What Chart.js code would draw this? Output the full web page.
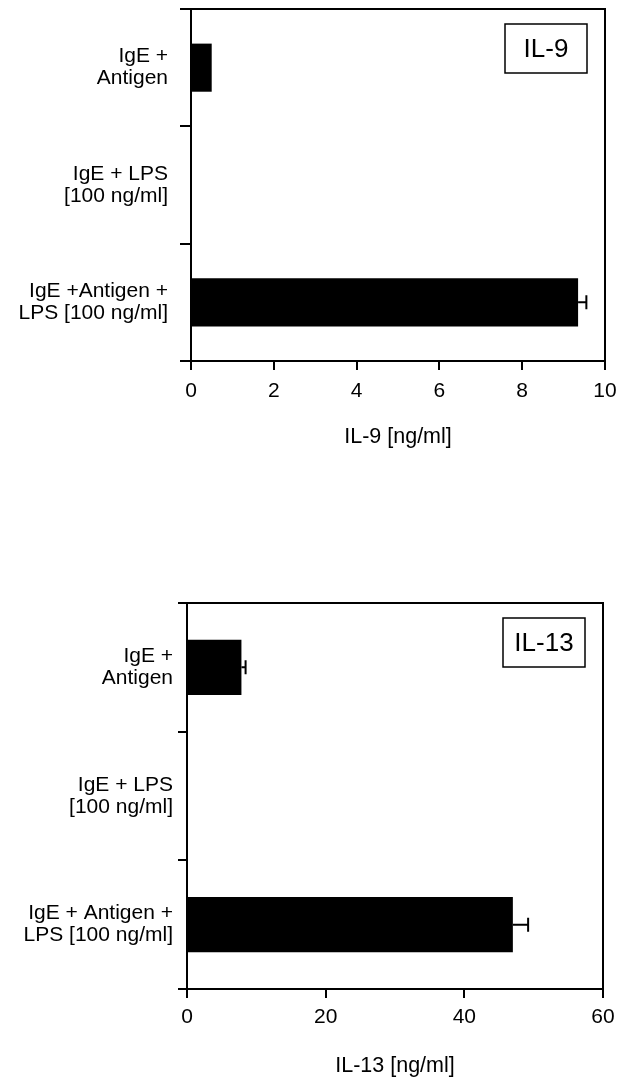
<!DOCTYPE html>
<html>
<head>
<meta charset="utf-8">
<script src="https://cdn.jsdelivr.net/npm/chart.js@4.4.1/dist/chart.umd.min.js"></script>
<style>
  html, body { margin:0; padding:0; background:#fff; }
  body { position:relative; width:625px; height:1079px; overflow:hidden; }
  canvas { position:absolute; left:0; }
</style>
</head>
<body>
<canvas id="il9" width="625" height="470" style="top:0"></canvas>
<canvas id="il13" width="625" height="539" style="top:540px"></canvas>
<script>
// ===== DATA =====
const il9Categories = [['IgE +', 'Antigen'], ['IgE + LPS', '[100 ng/ml]'], ['IgE +Antigen +', 'LPS [100 ng/ml]']];
const il9Values = [0.5, 0, 9.35];
const il9Errors = [0, 0, 0.2];
const il9Ticks = { min: 0, max: 10, step: 2 };

const il13Categories = [['IgE +', 'Antigen'], ['IgE + LPS', '[100 ng/ml]'], ['IgE + Antigen +', 'LPS [100 ng/ml]']];
const il13Values = [7.85, 0, 47];
const il13Errors = [0.6, 0, 2.2];
const il13Ticks = { min: 0, max: 60, step: 20 };

const FONT = '"Liberation Sans", Arial, sans-serif';

// error bars drawn from the bar ends
const errorBars = {
  id: 'errorBars',
  afterDatasetsDraw(chart, args, opts) {
    const ctx = chart.ctx, xs = chart.scales.x;
    const meta = chart.getDatasetMeta(0);
    const vals = chart.data.datasets[0].data;
    ctx.save();
    ctx.strokeStyle = '#000'; ctx.lineWidth = 2;
    opts.errors.forEach((e, i) => {
      if (!e) return;
      const y = meta.data[i].y;
      const x0 = xs.getPixelForValue(vals[i]);
      const x1 = xs.getPixelForValue(vals[i] + e);
      ctx.beginPath();
      ctx.moveTo(x0, y); ctx.lineTo(x1, y);
      ctx.moveTo(x1, y - 7); ctx.lineTo(x1, y + 7);
      ctx.stroke();
    });
    ctx.restore();
  }
};

// frame (top + right) and the boxed panel label
const frameBox = {
  id: 'frameBox',
  afterDraw(chart, args, opts) {
    const { ctx, chartArea: a } = chart;
    ctx.save();
    ctx.strokeStyle = '#000'; ctx.lineWidth = 2;
    ctx.beginPath();
    ctx.moveTo(a.left, a.top); ctx.lineTo(a.right, a.top); ctx.lineTo(a.right, a.bottom);
    ctx.stroke();
    const w = 82, h = 49, bx = a.right - 18 - w, by = a.top + 15;
    ctx.lineWidth = 1.5;
    ctx.strokeRect(bx, by, w, h);
    ctx.fillStyle = '#000';
    ctx.font = '26px ' + FONT;
    ctx.textAlign = 'center'; ctx.textBaseline = 'middle';
    ctx.fillText(opts.label, bx + w / 2, by + h / 2 + 1);
    ctx.restore();
  }
};

function makeChart(id, cfg) {
  return new Chart(document.getElementById(id), {
    type: 'bar',
    data: {
      labels: cfg.categories,
      datasets: [{
        data: cfg.values,
        backgroundColor: '#000',
        borderWidth: 0,
        categoryPercentage: 1,
        barPercentage: cfg.barPct
      }]
    },
    options: {
      indexAxis: 'y',
      responsive: false,
      animation: false,
      layout: { padding: { top: cfg.top, right: cfg.right, left: 0, bottom: 0 } },
      plugins: {
        legend: { display: false },
        tooltip: { enabled: false },
        errorBars: { errors: cfg.errors },
        frameBox: { label: cfg.label }
      },
      scales: {
        x: {
          min: cfg.ticks.min, max: cfg.ticks.max,
          border: { color: '#000', width: 2 },
          grid: { drawOnChartArea: false, drawTicks: true, tickLength: cfg.xTick, tickColor: '#000', lineWidth: 2 },
          ticks: { stepSize: cfg.ticks.step, color: '#000', padding: cfg.xPad, font: { family: FONT, size: 21 } },
          title: { display: true, text: cfg.title, color: '#000', padding: { top: 0, bottom: cfg.titlePad }, font: { family: FONT, size: 21.5 } },
          afterFit(s) { s.height = cfg.xHeight; s.paddingLeft = 0; s.paddingRight = 0; }
        },
        y: {
          border: { color: '#000', width: 2 },
          grid: { drawOnChartArea: false, drawTicks: true, tickLength: cfg.yTick, tickColor: '#000', lineWidth: 2 },
          ticks: { color: '#000', padding: cfg.yPad, font: { family: FONT, size: 21, lineHeight: 1.05 } },
          afterFit(s) { s.width = cfg.yWidth; s.paddingTop = 0; s.paddingBottom = 0; }
        }
      }
    },
    plugins: [errorBars, frameBox]
  });
}

makeChart('il9', {
  categories: il9Categories, values: il9Values, errors: il9Errors, ticks: il9Ticks,
  label: 'IL-9', title: 'IL-9 [ng/ml]', barPct: 0.41,
  top: 9, right: 20, yWidth: 191, xHeight: 109,
  xTick: 9, xPad: 9, yTick: 11, yPad: 12, titlePad: 20
});

makeChart('il13', {
  categories: il13Categories, values: il13Values, errors: il13Errors, ticks: il13Ticks,
  label: 'IL-13', title: 'IL-13 [ng/ml]', barPct: 0.43,
  top: 63, right: 22, yWidth: 187, xHeight: 90,
  xTick: 9, xPad: 7, yTick: 9, yPad: 5, titlePad: 0
});
</script>
</body>
</html>
